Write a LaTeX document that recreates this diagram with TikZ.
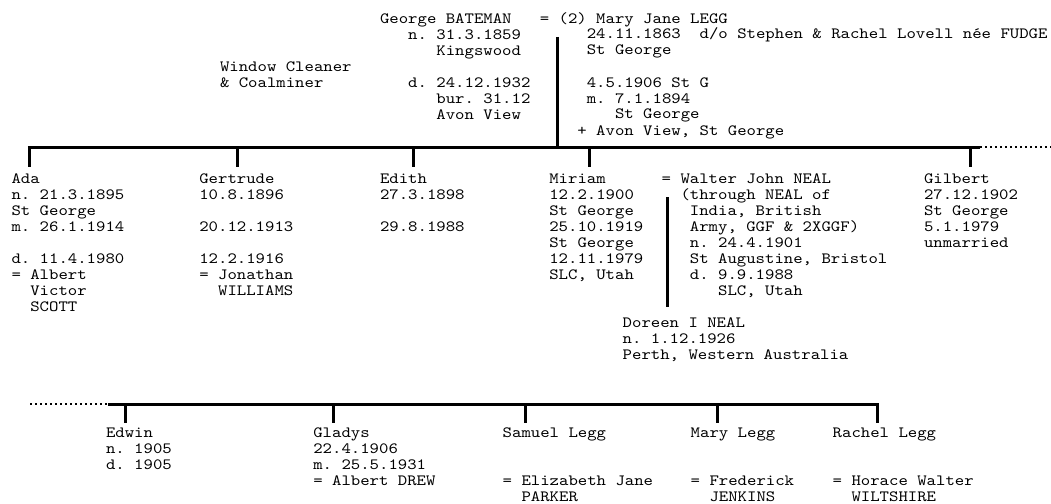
\documentclass[tikz,border=0pt]{standalone}
\usepackage{fontspec}
\newfontfamily\cour{lmmono10-regular}[Extension=.otf, FakeStretch=1.1429]
\newcommand{\fs}{\rule{0pt}{14pt}}
\tikzset{
  txt/.style={anchor=north west, inner sep=0pt, outer sep=0pt, align=left,
              font=\cour\fontsize{15.67}{16}\selectfont\frenchspacing},
  bar/.style={line width=3pt},
  dots/.style={line width=2pt, dash pattern=on 2pt off 3pt},
}
\begin{document}
\begin{tikzpicture}[x=1pt,y=-1pt]
\useasboundingbox (0,0) rectangle (1051,503);

% ---- parents
\node[txt] (george) at (380,9) {\fs George BATEMAN\\~~~n. 31.3.1859\\~~~~~~Kingswood\\~\\~~~d. 24.12.1932\\~~~~~~bur. 31.12\\~~~~~~Avon View};
\node[txt] (mary) at (539.8,9) {\fs= (2) Mary Jane LEGG\\~~~~~24.11.1863~~d/o Stephen \& Rachel Lovell née FUDGE\\~~~~~St George\\~\\~~~~~4.5.1906 St G\\~~~~~m. 7.1.1894\\~~~~~~~~St George\\~~~~+ Avon View, St George};
\node[txt] (job) at (220,57) {\fs Window Cleaner\\\& Coalminer};

% ---- children of George and Mary
\node[txt] (ada) at (11.5,169) {\fs Ada\\n. 21.3.1895\\St George\\m. 26.1.1914\\~\\d. 11.4.1980\\= Albert\\~~Victor\\~~SCOTT};
\node[txt] (gertrude) at (199.3,169) {\fs Gertrude\\10.8.1896\\~\\20.12.1913\\~\\12.2.1916\\= Jonathan\\~~WILLIAMS};
\node[txt] (edith) at (380,169) {\fs Edith\\27.3.1898\\~\\29.8.1988};
\node[txt] (miriam) at (549.3,169) {\fs Miriam\\12.2.1900\\St George\\25.10.1919\\St George\\12.11.1979\\SLC, Utah};
\node[txt] (walter) at (661.7,169) {\fs= Walter John NEAL\\~~(through NEAL of\\~~~India, British\\~~~Army, GGF \& 2XGGF)\\~~~n. 24.4.1901\\~~~St Augustine, Bristol\\~~~d. 9.9.1988\\~~~~~~SLC, Utah};
\node[txt] (doreen) at (622.7,313) {\fs Doreen I NEAL\\n. 1.12.1926\\Perth, Western Australia};
\node[txt] (gilbert) at (924,169) {\fs Gilbert\\27.12.1902\\St George\\5.1.1979\\unmarried};

% ---- lower row
\node[txt] (edwin) at (106,423) {\fs Edwin\\n. 1905\\d. 1905};
\node[txt] (gladys) at (313.3,423) {\fs Gladys\\22.4.1906\\m. 25.5.1931\\= Albert DREW};
\node[txt] (samuel) at (502.7,423) {\fs Samuel Legg\\~\\~\\= Elizabeth Jane\\~~PARKER};
\node[txt] (maryl) at (690.7,423) {\fs Mary Legg\\~\\~\\= Frederick\\~~JENKINS};
\node[txt] (rachel) at (832.7,423) {\fs Rachel Legg\\~\\~\\= Horace Walter\\~~WILTSHIRE};

% ---- top line of descent
\coordinate (tl) at (27.8,147);
\coordinate (tr) at (980,147);
\coordinate (te) at (1051,147);
\coordinate (gm) at (557,37);
\coordinate (gmb) at (557,147);
\draw[bar] (tl) -- (tr);
\draw[dots] (tr) -- (te);
\draw[bar] (gm) -- (gmb);

\coordinate (kada) at (29.3,147);
\coordinate (kger) at (237.3,147);
\coordinate (kedi) at (413.3,147);
\coordinate (kmir) at (589,147);
\coordinate (kgil) at (970,147);
\foreach \k/\n in {kada/ada,kger/gertrude,kedi/edith,kmir/miriam,kgil/gilbert}
  \draw[bar,shorten >=2pt] (\k) -- (\k |- \n.north);

% ---- Miriam = Walter -> Doreen
\coordinate (mw) at (667.7,197);
\draw[bar,shorten >=6pt] (mw) -- (mw |- doreen.north);

% ---- bottom line of descent
\coordinate (bl) at (30,404);
\coordinate (bm) at (108,404);
\coordinate (br) at (877,404);
\draw[dots] (bl) -- (bm);
\draw[bar,line join=miter] (bm) -- (br) -- (br |- rachel.north);
\coordinate (kedw) at (125,404);
\coordinate (kgla) at (333.3,404);
\coordinate (ksam) at (525,404);
\coordinate (kmar) at (717.7,404);
\foreach \k/\n in {kedw/edwin,kgla/gladys,ksam/samuel,kmar/maryl}
  \draw[bar] (\k) -- (\k |- \n.north);
\end{tikzpicture}
\end{document}
